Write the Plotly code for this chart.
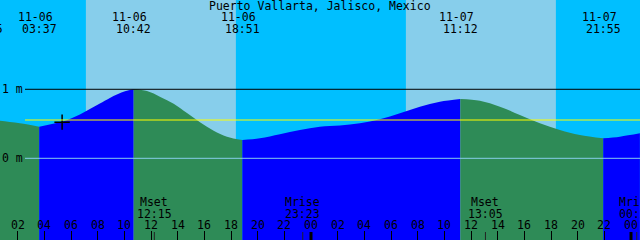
import plotly.graph_objects as go

# ---------------- data ----------------
STATION = "Puerto Vallarta, Jalisco, Mexico"

# tide surface samples (time, metres)
curve_times = ["11-05 23:35", "11-06 00:40", "11-06 02:10", "11-06 03:37", "11-06 05:10",
               "11-06 05:55", "11-06 06:40", "11-06 07:25", "11-06 08:10", "11-06 08:55",
               "11-06 10:03", "11-06 10:42", "11-06 11:42", "11-06 12:42", "11-06 13:42",
               "11-06 14:42", "11-06 15:42", "11-06 16:42", "11-06 17:42", "11-06 18:51",
               "11-06 20:10", "11-06 21:40", "11-06 23:10", "11-07 00:40", "11-07 02:10",
               "11-07 03:40", "11-07 05:10", "11-07 06:40", "11-07 08:10", "11-07 09:40",
               "11-07 11:12", "11-07 12:40", "11-07 14:10", "11-07 15:40", "11-07 17:10",
               "11-07 18:40", "11-07 20:10", "11-07 21:55", "11-07 23:10", "11-08 00:40"]
curve_levels = [0.555, 0.545, 0.507, 0.458, 0.522,
                0.57, 0.635, 0.715, 0.795, 0.875,
                0.97, 1.0, 0.975, 0.89, 0.79,
                0.655, 0.52, 0.40, 0.313, 0.265,
                0.29, 0.348, 0.41, 0.458, 0.474,
                0.507, 0.565, 0.652, 0.748, 0.82,
                0.86, 0.835, 0.748, 0.628, 0.507,
                0.41, 0.338, 0.29, 0.313, 0.362]

# high / low tide events
event_times = ["11-05 23:35", "11-06 03:37", "11-06 10:42", "11-06 18:51", "11-07 11:12", "11-07 21:55"]
event_kinds = ["H", "L", "H", "L", "H", "L"]

# sun
sunrise_times = ["11-06 07:07", "11-07 07:07"]
sunset_times = ["11-06 18:22", "11-07 18:22"]

# moon
moon_names = ["Mset", "Mrise", "Mset", "Mrise"]
moon_times = ["11-06 12:15", "11-06 23:23", "11-07 13:05", "11-08 00:26"]

# hour ticks
hour_ticks = list(range(2, 49, 2))
midnights = [24, 48]

mark_level = 0.555          # yellow reference line
now_time, now_level = "11-06 05:20", 0.524
ref_levels = [1, 0]
ref_labels = ["1 m", "0 m"]

X_RANGE = [0.675, 48.675]
Y_RANGE = [-1.184, 2.294]

# ---------------- style ----------------
NIGHT = "#00BFFF"
DAY = "#87CEEB"
RISE = "#0000FF"
FALL = "#2E8B57"
FONT = "DejaVu Sans Mono"
FS = 11.5
W, H = 640, 240
PX_PER_HOUR = W / (X_RANGE[1] - X_RANGE[0])


def hrs(s):
    md, hm = s.split()
    _, d = md.split("-")
    h, mi = hm.split(":")
    return (int(d) - 6) * 24 + int(h) + int(mi) / 60.0


ct = [hrs(s) for s in curve_times]
et = [hrs(s) for s in event_times]

fig = go.Figure()

# water segments between extremes
bounds = [ct[0]] + et[1:] + [ct[-1]]
for i in range(len(bounds) - 1):
    a, b = bounds[i], bounds[i + 1]
    idx = [k for k, t in enumerate(ct) if a - 1e-9 <= t <= b + 1e-9]
    xs = [ct[k] for k in idx]
    ys = [curve_levels[k] for k in idx]
    end_kind = None
    for t, k in zip(et, event_kinds):
        if abs(t - b) < 1e-6:
            end_kind = k
    if end_kind is None:
        for t, k in zip(et, event_kinds):
            if abs(t - a) < 1e-6:
                end_kind = "H" if k == "L" else "L"
    col = RISE if end_kind == "H" else FALL
    fig.add_trace(go.Scatter(x=xs, y=[Y_RANGE[0]] * len(xs), mode="lines",
                             line=dict(width=0), hoverinfo="skip", showlegend=False))
    fig.add_trace(go.Scatter(x=xs, y=ys, mode="lines", line=dict(width=0, shape="spline", smoothing=1.0),
                             fill="tonexty", fillcolor=col, hoverinfo="skip", showlegend=False))

# now marker
fig.add_trace(go.Scatter(x=[hrs(now_time)], y=[now_level], mode="markers",
                         marker=dict(symbol="cross-thin", size=11, line=dict(width=1.5, color="black")),
                         showlegend=False))

shapes = []
for sr, ss in zip(sunrise_times, sunset_times):
    shapes.append(dict(type="rect", xref="x", yref="paper", x0=hrs(sr), x1=hrs(ss), y0=0, y1=1,
                       fillcolor=DAY, line=dict(width=0), layer="below"))
lx0 = 25 / W
shapes.append(dict(type="line", xref="paper", yref="y", x0=lx0, x1=1, y0=ref_levels[0], y1=ref_levels[0],
                   line=dict(color="black", width=1), layer="above"))
shapes.append(dict(type="line", xref="paper", yref="y", x0=lx0, x1=1, y0=ref_levels[1], y1=ref_levels[1],
                   line=dict(color=DAY, width=1), layer="above"))
shapes.append(dict(type="line", xref="paper", yref="y", x0=lx0, x1=1, y0=mark_level, y1=mark_level,
                   line=dict(color="yellow", width=1.2), layer="above"))
for m in midnights:
    shapes.append(dict(type="line", xref="x", yref="paper", x0=m, x1=m, y0=0, y1=8 / H,
                       line=dict(color="black", width=3), layer="above"))
for t in moon_times:
    shapes.append(dict(type="line", xref="x", yref="paper", x0=hrs(t), x1=hrs(t), y0=0, y1=8 / H,
                       line=dict(color="#222222", width=1), layer="above"))

ann = []


def txt(x, y, s, xshift=0):
    # labels whose anchor falls outside the axis range are pinned to the edge and shifted
    if x < X_RANGE[0]:
        xshift += (x - X_RANGE[0]) * PX_PER_HOUR
        x = X_RANGE[0]
    elif x > X_RANGE[1]:
        xshift += (x - X_RANGE[1]) * PX_PER_HOUR
        x = X_RANGE[1]
    ann.append(dict(x=x, y=y, xref="x", yref="paper", text=s, showarrow=False,
                    xanchor="center", yanchor="middle", xshift=xshift,
                    font=dict(family=FONT, size=FS, color="black")))


ann.append(dict(x=0.5, y=1 - 6 / H, xref="paper", yref="paper", text=STATION, showarrow=False,
                xanchor="center", yanchor="middle", font=dict(family=FONT, size=FS, color="black")))
for s, t in zip(event_times, et):
    md, hm = s.split()
    txt(t, 1 - 17.5 / H, md, xshift=-4)
    txt(t, 1 - 29 / H, hm)
for name, s in zip(moon_names, moon_times):
    t = hrs(s)
    txt(t, 1 - 201.5 / H, name)
    txt(t, 1 - 213.5 / H, s.split()[1])
for h in hour_ticks:
    txt(h, 1 - 225 / H, "%02d" % (h % 24))
for lv, lab in zip(ref_levels, ref_labels):
    ann.append(dict(x=0, y=lv, xref="paper", yref="y", text=lab, showarrow=False,
                    xanchor="left", yanchor="middle",
                    font=dict(family=FONT, size=FS, color="black")))

fig.update_layout(
    width=W, height=H, margin=dict(l=0, r=0, t=0, b=0),
    plot_bgcolor=NIGHT, paper_bgcolor=NIGHT,
    shapes=shapes, annotations=ann, showlegend=False,
    xaxis=dict(range=X_RANGE, showgrid=False, zeroline=False, showline=False,
               tickvals=[h for h in hour_ticks if h not in midnights], ticks="inside", ticklen=9,
               tickwidth=1, tickcolor="black", showticklabels=False, fixedrange=True),
    yaxis=dict(range=Y_RANGE, showgrid=False, zeroline=False, showline=False,
               showticklabels=False, ticks="", fixedrange=True),
)

fig.write_html("out.html", config={"displayModeBar": False})
